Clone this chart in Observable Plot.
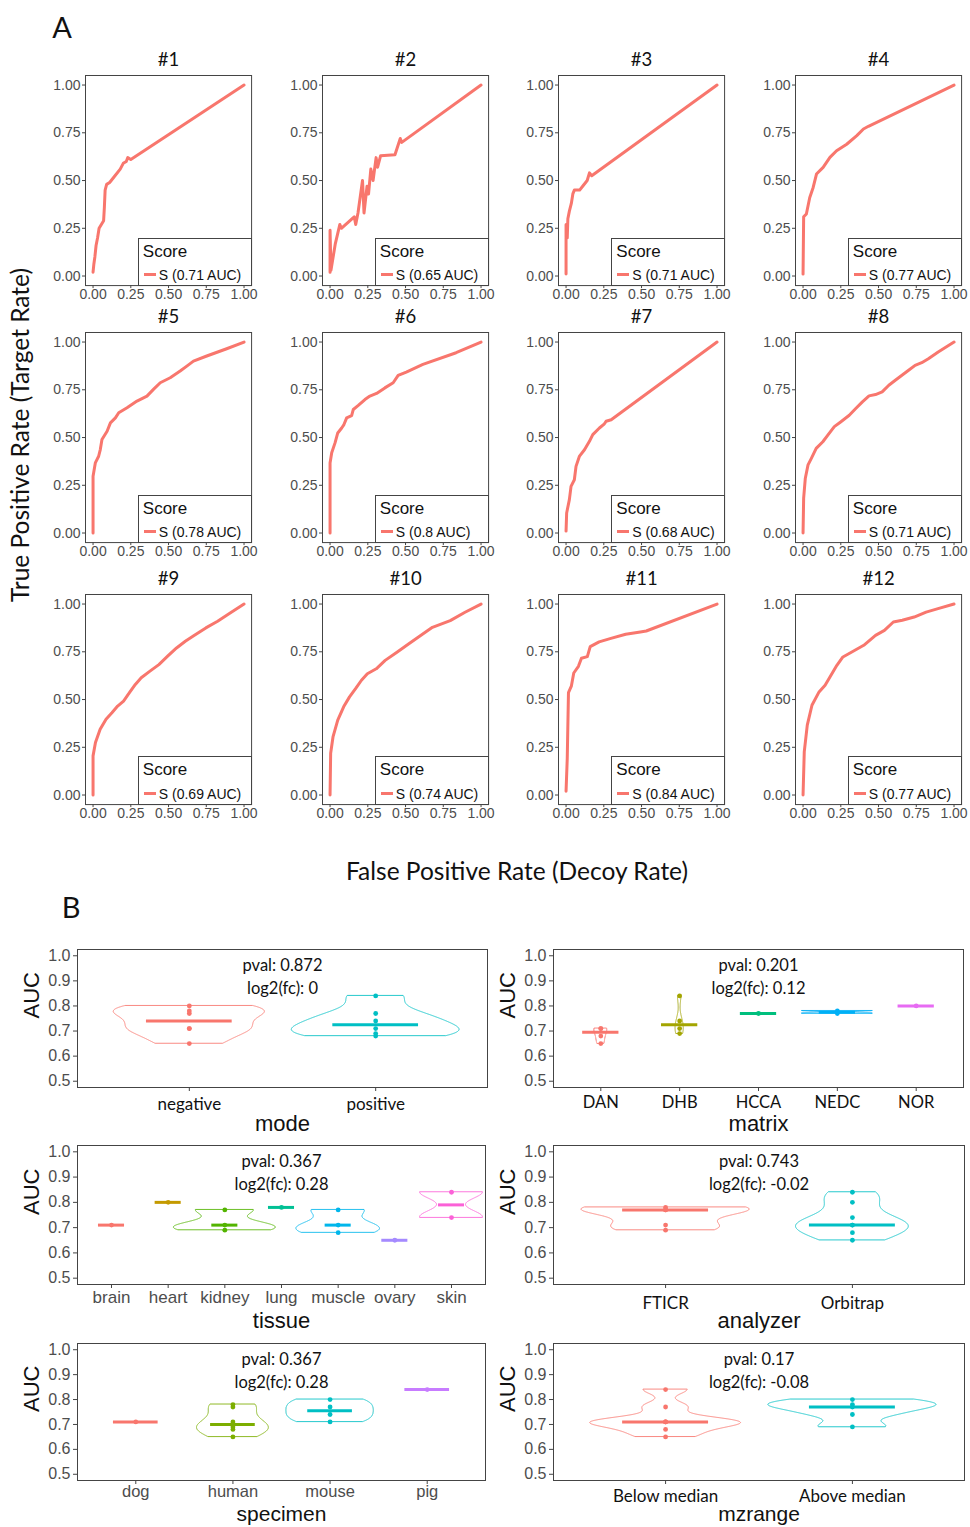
<!DOCTYPE html>
<html><head><meta charset="utf-8">
<script src="https://cdn.jsdelivr.net/npm/d3@7"></script>
<script src="https://cdn.jsdelivr.net/npm/@observablehq/plot@0.6"></script>
<style>
body{margin:0;background:#fff;}
#root{position:relative;width:970px;height:1527px;overflow:hidden;background:#fff;}
.pl{position:absolute;}
.txt{position:absolute;white-space:nowrap;line-height:1;font-family:Lato,"Open Sans",sans-serif;color:#111;}
.legend{position:absolute;border:1px solid #444;background:#fff;box-sizing:border-box;font-family:"Liberation Sans",Arial,sans-serif;color:#111;}
</style></head><body><div id="root"></div>
<script>
// ---------------- DATA ----------------
const rocTitles = ["#1","#2","#3","#4","#5","#6","#7","#8","#9","#10","#11","#12"];
const rocAUC = ["0.71","0.65","0.71","0.77","0.78","0.8","0.68","0.71","0.69","0.74","0.84","0.77"];
const ticks4 = [0, 0.25, 0.5, 0.75, 1];

const roc1 = [[0,0.02],[0.005,0.06],[0.012,0.1],[0.02,0.16],[0.03,0.2],[0.04,0.25],[0.055,0.27],[0.07,0.29],[0.075,0.36],[0.08,0.45],[0.09,0.48],[0.11,0.49],[0.14,0.52],[0.18,0.56],[0.2,0.59],[0.22,0.6],[0.23,0.62],[0.25,0.61],[1,1]];
const roc2 = [[0,0.02],[0,0.24],[0.006,0.03],[0.035,0.17],[0.065,0.27],[0.075,0.25],[0.16,0.31],[0.17,0.27],[0.185,0.33],[0.215,0.5],[0.225,0.33],[0.245,0.47],[0.255,0.43],[0.27,0.56],[0.285,0.5],[0.305,0.62],[0.315,0.57],[0.335,0.63],[0.43,0.635],[0.465,0.72],[0.475,0.7],[1,1]];
const roc3 = [[0,0.01],[0,0.27],[0.008,0.2],[0.012,0.3],[0.022,0.34],[0.035,0.38],[0.045,0.43],[0.055,0.45],[0.09,0.45],[0.11,0.47],[0.14,0.5],[0.155,0.54],[0.17,0.525],[1,1]];
const roc4 = [[0,0.01],[0.004,0.31],[0.022,0.325],[0.044,0.41],[0.067,0.464],[0.089,0.534],[0.133,0.569],[0.178,0.621],[0.222,0.656],[0.289,0.69],[0.356,0.735],[0.4,0.77],[0.433,0.784],[1,1]];
const roc5 = [[0,0],[0,0.297],[0.015,0.367],[0.037,0.402],[0.048,0.437],[0.059,0.49],[0.093,0.533],[0.115,0.577],[0.148,0.603],[0.17,0.63],[0.225,0.656],[0.291,0.691],[0.357,0.717],[0.4,0.752],[0.445,0.787],[0.511,0.813],[0.577,0.848],[0.621,0.874],[0.665,0.9],[0.753,0.927],[0.885,0.965],[1,1]];
const roc6 = [[0,0],[0,0.367],[0.011,0.42],[0.033,0.472],[0.051,0.524],[0.077,0.55],[0.092,0.568],[0.11,0.603],[0.143,0.615],[0.154,0.647],[0.187,0.668],[0.231,0.699],[0.264,0.717],[0.308,0.731],[0.363,0.76],[0.418,0.787],[0.451,0.825],[0.505,0.843],[0.615,0.883],[0.835,0.944],[1,1]];
const roc7 = [[0,0.01],[0.004,0.105],[0.022,0.175],[0.033,0.244],[0.055,0.279],[0.066,0.349],[0.088,0.401],[0.122,0.436],[0.155,0.48],[0.177,0.515],[0.221,0.55],[0.254,0.572],[0.265,0.585],[0.299,0.593],[1,1]];
const roc8 = [[0,0],[0.004,0.183],[0.015,0.287],[0.033,0.357],[0.055,0.391],[0.087,0.443],[0.131,0.478],[0.164,0.513],[0.207,0.557],[0.251,0.583],[0.306,0.617],[0.349,0.652],[0.393,0.687],[0.437,0.718],[0.48,0.725],[0.524,0.739],[0.568,0.774],[0.611,0.8],[0.655,0.826],[0.699,0.852],[0.742,0.878],[0.786,0.892],[0.83,0.913],[0.895,0.948],[1,1]];
const roc9 = [[0,0],[0,0.205],[0.016,0.275],[0.047,0.344],[0.086,0.397],[0.125,0.431],[0.163,0.466],[0.202,0.492],[0.241,0.536],[0.28,0.579],[0.319,0.614],[0.377,0.649],[0.436,0.683],[0.494,0.727],[0.553,0.77],[0.611,0.805],[0.669,0.835],[0.747,0.875],[0.825,0.91],[0.903,0.95],[1,1]];
const roc10 = [[0,0],[0.004,0.219],[0.02,0.306],[0.051,0.392],[0.09,0.462],[0.129,0.514],[0.169,0.557],[0.208,0.601],[0.247,0.635],[0.306,0.661],[0.365,0.705],[0.443,0.748],[0.522,0.792],[0.6,0.835],[0.678,0.878],[0.796,0.913],[0.894,0.957],[1,1]];
const roc11 = [[0,0.02],[0.008,0.192],[0.016,0.536],[0.035,0.57],[0.051,0.639],[0.082,0.674],[0.102,0.716],[0.141,0.725],[0.16,0.777],[0.219,0.802],[0.297,0.82],[0.395,0.842],[0.492,0.854],[0.531,0.859],[1,1]];
const roc12 = [[0,0],[0.008,0.226],[0.028,0.366],[0.059,0.47],[0.106,0.54],[0.146,0.575],[0.185,0.627],[0.224,0.679],[0.264,0.723],[0.323,0.749],[0.402,0.784],[0.48,0.836],[0.539,0.862],[0.598,0.906],[0.657,0.915],[0.736,0.932],[0.815,0.958],[0.894,0.976],[1,1]];

const aucTicks = [0.5, 0.6, 0.7, 0.8, 0.9, 1.0];

const modeCats = ["negative","positive"];
const modeVals = [[0.65,0.71,0.71,0.77,0.78,0.80],[0.68,0.69,0.71,0.74,0.77,0.84]];
const modeStats = ["pval: 0.872","log2(fc): 0"];

const matrixCats = ["DAN","DHB","HCCA","NEDC","NOR"];
const matrixVals = [[0.65,0.68,0.71,0.71],[0.69,0.71,0.74,0.84],[0.77],[0.77,0.78],[0.80]];
const matrixStats = ["pval: 0.201","log2(fc): 0.12"];

const tissueCats = ["brain","heart","kidney","lung","muscle","ovary","skin"];
const tissueVals = [[0.71],[0.80],[0.69,0.71,0.77],[0.78],[0.68,0.71,0.77],[0.65],[0.74,0.84]];
const tissueStats = ["pval: 0.367","log2(fc): 0.28"];

const analyzerCats = ["FTICR","Orbitrap"];
const analyzerVals = [[0.69,0.71,0.77,0.77,0.78],[0.65,0.68,0.71,0.71,0.74,0.80,0.84]];
const analyzerStats = ["pval: 0.743","log2(fc): -0.02"];

const specimenCats = ["dog","human","mouse","pig"];
const specimenVals = [[0.71],[0.65,0.68,0.69,0.71,0.77,0.78],[0.71,0.74,0.77,0.80],[0.84]];
const specimenStats = ["pval: 0.367","log2(fc): 0.28"];

const mzCats = ["Below median","Above median"];
const mzVals = [[0.65,0.68,0.71,0.71,0.71,0.77,0.84],[0.69,0.74,0.77,0.78,0.80]];
const mzStats = ["pval: 0.17","log2(fc): -0.08"];

// ---------------- STYLE / LAYOUT ----------------
const root = document.getElementById("root");
const RED = "#F8766D";
const SANS = "Liberation Sans, Arial, sans-serif";
const CAL = "Lato, Open Sans, sans-serif";
const palettes = {
  2: ["#F8766D","#00BFC4"],
  4: ["#F8766D","#7CAE00","#00BFC4","#C77CFF"],
  5: ["#F8766D","#A3A500","#00BF7D","#00B0F6","#E76BF3"],
  7: ["#F8766D","#C49A00","#53B400","#00C094","#00B6EB","#A58AFF","#FB61D7"]
};

function place(el, left, top) {
  el.classList.add("pl");
  el.style.left = left + "px";
  el.style.top = top + "px";
  root.appendChild(el);
}
function label(text, cx, cy, size, rot, extra) {
  const d = document.createElement("div");
  d.className = "txt";
  d.textContent = text;
  d.style.left = cx + "px";
  d.style.top = cy + "px";
  d.style.fontSize = size + "px";
  d.style.transform = "translate(-50%,-50%)" + (rot ? " rotate(" + rot + "deg)" : "");
  if (extra) Object.assign(d.style, extra);
  root.appendChild(d);
}

// ---------------- ROC PANELS ----------------
const rocData = [roc1,roc2,roc3,roc4,roc5,roc6,roc7,roc8,roc9,roc10,roc11,roc12];
const colX0 = [92.5, 329.5, 566, 802.5];
const rowY1 = [85, 342, 603.5];
const UX = 151, UY = 191;

rocData.forEach((data, k) => {
  const col = k % 4, row = Math.floor(k / 4);
  const ML = 48, MR = 6, MT = 30, MB = 26;
  const fw = UX * 1.1, fh = UY * 1.1;
  const frameLeft = colX0[col] - 0.05 * UX;
  const frameTop = rowY1[row] - 0.05 * UY;
  const plot = Plot.plot({
    width: ML + fw + MR, height: MT + fh + MB,
    marginLeft: ML, marginRight: MR, marginTop: MT, marginBottom: MB,
    style: {background: "transparent", fontFamily: SANS, overflow: "visible"},
    x: {domain: [-0.05, 1.05]},
    y: {domain: [-0.05, 1.05]},
    marks: [
      Plot.frame({stroke: "#444", strokeWidth: 1}),
      Plot.axisX({ticks: ticks4, tickFormat: d3.format(".2f"), tickSize: 3, tickPadding: 0, fontSize: 14, fill: "#4D4D4D", stroke: "#444", label: null}),
      Plot.axisY({ticks: ticks4, tickFormat: d3.format(".2f"), tickSize: 3, tickPadding: 2, fontSize: 14, fill: "#4D4D4D", stroke: "#444", label: null}),
      Plot.line(data, {x: d => d[0], y: d => d[1], stroke: RED, strokeWidth: 3, strokeLinejoin: "round"}),
      Plot.text([rocTitles[k]], {frameAnchor: "top", lineAnchor: "middle", dy: -15, fontSize: 18.5, fontFamily: CAL, fill: "#111"})
    ]
  });
  const svgLeft = frameLeft - ML, svgTop = frameTop - MT;
  place(plot, svgLeft, svgTop);
  const xs = plot.scale("x");
  const lgLeft = svgLeft + xs.apply(0.3);
  const lgRight = svgLeft + ML + fw;
  const lgBottom = svgTop + MT + fh;
  const lg = document.createElement("div");
  lg.className = "legend";
  lg.style.left = lgLeft + "px";
  lg.style.top = (lgBottom - 48) + "px";
  lg.style.width = (lgRight - lgLeft + 0.5) + "px";
  lg.style.height = "48.5px";
  lg.innerHTML =
    '<div style="position:absolute;left:4px;top:4px;font-size:17px;line-height:1;">Score</div>' +
    '<div style="position:absolute;left:5px;top:34.5px;width:12px;height:3px;background:' + RED + ';"></div>' +
    '<div style="position:absolute;left:20px;top:29.5px;font-size:14px;line-height:1;white-space:nowrap;">S (' + rocAUC[k] + ' AUC)</div>';
  root.appendChild(lg);
});

// ---------------- VIOLIN PANELS ----------------
function nrd0(v) {
  const s = [...v].sort(d3.ascending);
  const sd = d3.deviation(s);
  const iqr = d3.quantile(s, 0.75) - d3.quantile(s, 0.25);
  let lo = Math.min(sd, iqr / 1.34);
  if (!(lo > 0)) lo = sd || Math.abs(s[0]) || 1;
  return 0.9 * lo * Math.pow(s.length, -0.2);
}
function kde(v) {
  const bw = nrd0(v);
  const [a, b] = d3.extent(v);
  const N = 512;
  return d3.range(N).map(i => {
    const y = a + (b - a) * i / (N - 1);
    const d = d3.sum(v, x => Math.exp(-0.5 * ((y - x) / bw) ** 2)) / (v.length * bw * Math.sqrt(2 * Math.PI));
    return {y, d};
  });
}

function violinPanel(cfg) {
  const {cats, vals, stats, title, left, right, top, bottom, vw, tickFont, tickColor, tickPad, tickSize, titleDy, titleSize} = cfg;
  const n = cats.length;
  const ML = 72, MR = 4, MT = 4, MB = 52;
  const fw = right - left, fh = bottom - top;
  const dens = vals.map(v => v.length >= 2 ? kde(v) : null);
  const dmax = d3.max(dens.filter(Boolean).flat(), p => p.d);
  const pts = [], meds = [], vio = [];
  vals.forEach((v, i) => {
    v.forEach(y => pts.push({x: i + 1, y, g: cats[i]}));
    meds.push({x: i + 1, y: d3.median(v), g: cats[i]});
    if (dens[i]) dens[i].forEach(p => vio.push({g: cats[i], y: p.y,
      x1: i + 1 - vw / 2 * p.d / dmax, x2: i + 1 + vw / 2 * p.d / dmax}));
  });
  const plot = Plot.plot({
    width: ML + fw + MR, height: MT + fh + MB,
    marginLeft: ML, marginRight: MR, marginTop: MT, marginBottom: MB,
    style: {background: "transparent", fontFamily: SANS, overflow: "visible"},
    x: {domain: [0.4, n + 0.6]},
    y: {domain: [0.475, 1.025]},
    color: {type: "ordinal", domain: cats, range: palettes[n]},
    marks: [
      Plot.frame({stroke: "#444", strokeWidth: 1}),
      Plot.areaX(vio, {y: "y", x1: "x1", x2: "x2", z: "g", fill: "none", stroke: "g", strokeWidth: 1, strokeOpacity: 0.85}),
      Plot.ruleY(meds, {y: "y", x1: d => d.x - 0.23, x2: d => d.x + 0.23, stroke: "g", strokeWidth: 3}),
      Plot.dot(pts, {x: "x", y: "y", fill: "g", r: 2.4}),
      Plot.axisY({ticks: aucTicks, tickFormat: d3.format(".1f"), tickSize: 4, tickPadding: 3, fontSize: 16, fill: "#4D4D4D", stroke: "#444", label: null}),
      Plot.axisX({ticks: d3.range(1, n + 1), tickFormat: i => cats[i - 1], tickSize: 4, tickPadding: tickPad, fontSize: tickSize, fontFamily: tickFont, fill: tickColor, stroke: "#444", label: null}),
      Plot.text(["AUC"], {frameAnchor: "left", lineAnchor: "middle", rotate: -90, dx: -46, fontSize: 22, fill: "#111"}),
      Plot.text([title], {frameAnchor: "bottom", lineAnchor: "middle", dy: titleDy, fontSize: titleSize, fill: "#111"}),
      Plot.text([stats[0]], {frameAnchor: "top", lineAnchor: "middle", dy: 16, fontSize: 16.5, fontFamily: CAL, fill: "#111"}),
      Plot.text([stats[1]], {frameAnchor: "top", lineAnchor: "middle", dy: 39, fontSize: 16.5, fontFamily: CAL, fill: "#111"})
    ]
  });
  place(plot, left - ML, top - MT);
}

violinPanel({cats: modeCats, vals: modeVals, stats: modeStats, title: "mode", left: 77, right: 487, top: 949, bottom: 1087, vw: 0.9, tickFont: CAL, tickColor: "#111", tickPad: 6, tickSize: 17, titleDy: 36, titleSize: 22});
violinPanel({cats: matrixCats, vals: matrixVals, stats: matrixStats, title: "matrix", left: 553, right: 963, top: 949, bottom: 1087, vw: 0.9, tickFont: CAL, tickColor: "#111", tickPad: 5, tickSize: 16.5, titleDy: 36, titleSize: 22});
violinPanel({cats: tissueCats, vals: tissueVals, stats: tissueStats, title: "tissue", left: 77, right: 485, top: 1145, bottom: 1284, vw: 1.8, tickFont: SANS, tickColor: "#4D4D4D", tickPad: 2, tickSize: 17, titleDy: 36, titleSize: 22});
violinPanel({cats: analyzerCats, vals: analyzerVals, stats: analyzerStats, title: "analyzer", left: 553, right: 964, top: 1145, bottom: 1284, vw: 0.9, tickFont: CAL, tickColor: "#111", tickPad: 8, tickSize: 17, titleDy: 36, titleSize: 22});
violinPanel({cats: specimenCats, vals: specimenVals, stats: specimenStats, title: "specimen", left: 77, right: 485, top: 1343, bottom: 1480, vw: 0.9, tickFont: SANS, tickColor: "#4D4D4D", tickPad: 1, tickSize: 16.5, titleDy: 34, titleSize: 21});
violinPanel({cats: mzCats, vals: mzVals, stats: mzStats, title: "mzrange", left: 553, right: 964, top: 1343, bottom: 1480, vw: 0.9, tickFont: CAL, tickColor: "#111", tickPad: 5, tickSize: 17, titleDy: 34, titleSize: 21});

// ---------------- GLOBAL LABELS ----------------
label("A", 62, 26, 29);
label("B", 71, 906, 29);
label("True Positive Rate (Target Rate)", 20, 435, 24.5, -90);
label("False Positive Rate (Decoy Rate)", 517, 871, 24.5);
</script></body></html>
